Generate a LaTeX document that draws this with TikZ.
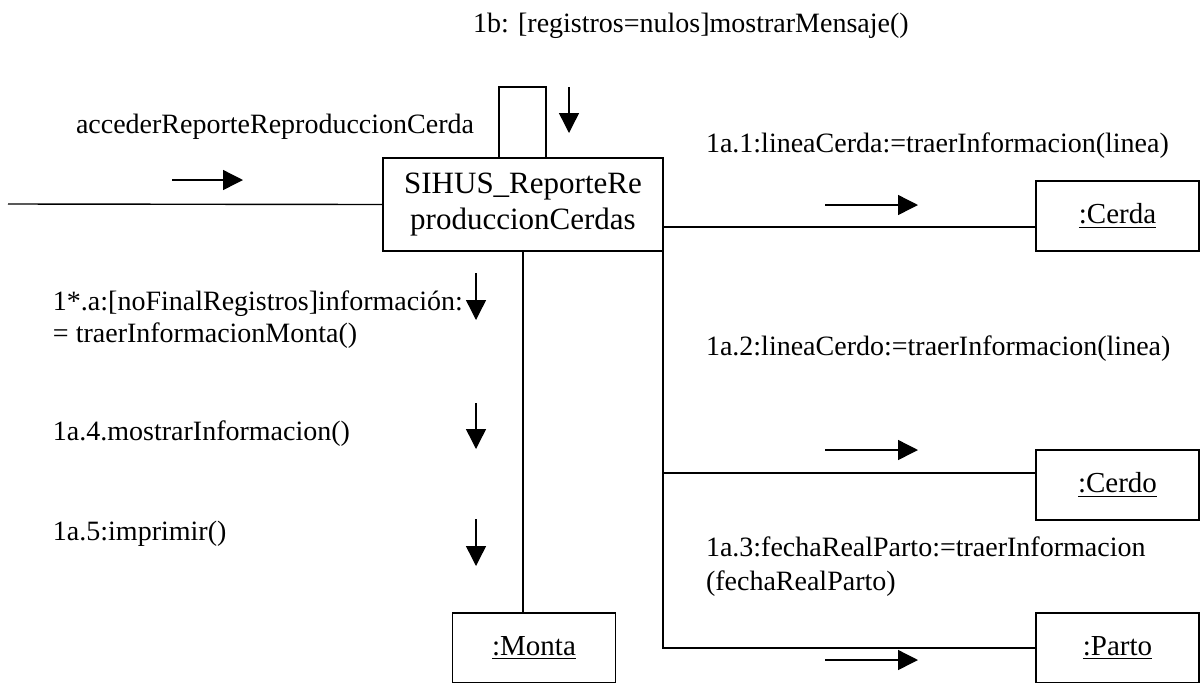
\documentclass[tikz,border=0pt]{standalone}
\usepackage{fontspec}
\setmainfont{Liberation Serif}
\usetikzlibrary{arrows.meta}
\begin{document}
\begin{tikzpicture}[x=0.5pt,y=-0.5pt,
  every node/.style={inner sep=0pt, outer sep=0pt},
  conn/.style={line width=0.7pt},
  msg/.style={line width=0.7pt,-{Triangle[length=10pt,width=10pt]}},
  objbox/.style={draw, line width=0.7pt, minimum width=81.5pt, minimum height=35pt, font=\fontsize{14.5}{17}\selectfont},
  lbl/.style={anchor=base west, font=\fontsize{14}{16.5}\selectfont}]
\useasboundingbox (0,0) rectangle (1200,682);
\clip (0,0) rectangle (1200,682);

% objects
\node[draw, line width=0.7pt, minimum width=140pt, minimum height=46.5pt, align=center,
      font=\fontsize{15.5}{18}\selectfont] (main) at (523,204.5) {SIHUS\_ReporteRe\\produccionCerdas};
\node[objbox] (cerda) at (1117.5,216) {\underline{:Cerda}};
\node[objbox] (cerdo) at (1117.5,485) {\underline{:Cerdo}};
\node[objbox] (parto) at (1117.5,648) {\underline{:Parto}};
\node[objbox] (monta) at (534,648) {\underline{:Monta}};

% connectors
\coordinate (start) at (8,204);
\draw[conn] (start) -- (main.west);
\coordinate (loopl) at (499,87);
\coordinate (loopr) at (546,87);
\draw[conn] (loopl |- main.north) -- (loopl) -- (loopr) -- (loopr |- main.north);
\coordinate (cy) at (0,227);
\draw[conn] (main.east |- cy) -- (cerda.west |- cy);
\draw[conn] (main.south east) |- (parto.west);
\coordinate (cdy) at (663,473);
\draw[conn] (cdy) -- (cerdo.west |- cdy);
\draw[conn] (main.south) -- (main.south |- monta.north);

% message arrows
\coordinate (a0s) at (172,180); \coordinate (a0e) at (243,180);
\draw[msg] (a0s) -- (a0e);
\coordinate (a1s) at (569,87); \coordinate (a1e) at (569,133);
\draw[msg] (a1s) -- (a1e);
\coordinate (a2s) at (825,205); \coordinate (a2e) at (918,205);
\draw[msg] (a2s) -- (a2e);
\coordinate (a3s) at (825,450); \coordinate (a3e) at (918,450);
\draw[msg] (a3s) -- (a3e);
\coordinate (a4s) at (825,660); \coordinate (a4e) at (918,660);
\draw[msg] (a4s) -- (a4e);
\coordinate (a5s) at (476,273); \coordinate (a5e) at (476,320);
\draw[msg] (a5s) -- (a5e);
\coordinate (a6s) at (476,403); \coordinate (a6e) at (476,449);
\draw[msg] (a6s) -- (a6e);
\coordinate (a7s) at (476,519); \coordinate (a7e) at (476,566);
\draw[msg] (a7s) -- (a7e);

% labels
\node[lbl] (l1b) at (473,32) {1b: [registros=nulos]mostrarMensaje()};
\node[lbl] (lacc) at (76,133) {accederReporteReproduccionCerda};
\node[lbl] (l1a1) at (706,152) {1a.1:lineaCerda:=traerInformacion(linea)};
\node[lbl] (l1a2) at (706,355) {1a.2:lineaCerdo:=traerInformacion(linea)};
\node[lbl] (l1a3a) at (706,556) {1a.3:fechaRealParto:=traerInformacion};
\node[lbl] (l1a3b) at (706,590) {(fechaRealParto)};
\node[lbl] (l1sa) at (53,310) {1*.a:[noFinalRegistros]información:};
\node[lbl] (l1sb) at (53,342) {= traerInformacionMonta()};
\node[lbl] (l1a4) at (53,440) {1a.4.mostrarInformacion()};
\node[lbl] (l1a5) at (53,540) {1a.5:imprimir()};
\end{tikzpicture}
\end{document}
